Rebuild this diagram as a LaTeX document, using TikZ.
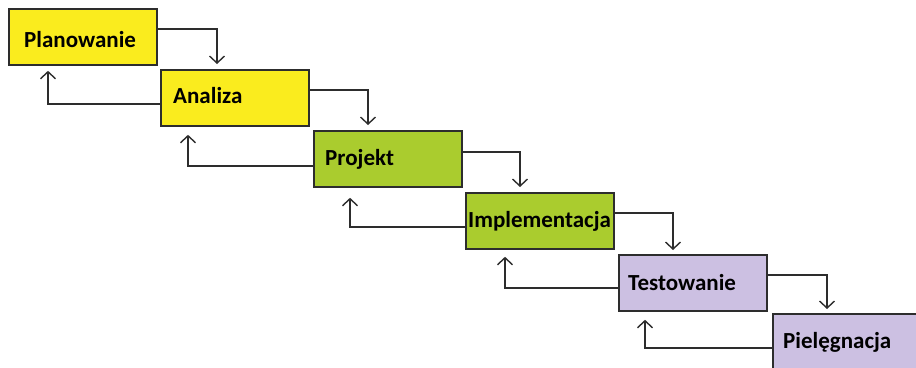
\documentclass[tikz,border=0pt]{standalone}
\usepackage{fontspec}
\setmainfont{Carlito}
\usetikzlibrary{arrows.meta,calc}
\definecolor{phaseyellow}{RGB}{250,236,30}
\definecolor{phasegreen}{RGB}{170,204,46}
\definecolor{phaselilac}{RGB}{204,192,226}
\definecolor{edgegray}{RGB}{45,45,45}
\tikzset{
  phase/.style={draw=edgegray, line width=1.8pt, minimum width=148pt, minimum height=56pt,
    inner sep=0pt, anchor=north west},
  phasetext/.style={font=\bfseries\fontsize{23}{27}\selectfont, anchor=base west, inner sep=0pt},
  flow/.style={draw=edgegray, line width=1.4pt, -{Straight Barb[length=7pt,width=15pt,line width=1.4pt]}},
}
\begin{document}
\begin{tikzpicture}[x=1pt,y=-1pt]
\useasboundingbox (0,0) rectangle (916,367);
\clip (0,0) rectangle (916,367);
\fill[white] (0,0) rectangle (916,367);

% phase boxes
\node[phase, fill=phaseyellow] (plan) at (8,8) {};
\node[phase, fill=phaseyellow] (anal) at (160,69) {};
\node[phase, fill=phasegreen]  (proj) at (313,130) {};
\node[phase, fill=phasegreen]  (impl) at (465,192) {};
\node[phase, fill=phaselilac]  (test) at (618,254) {};
\node[phase, fill=phaselilac, minimum width=156pt] (piel) at (772,313) {};

% phase names
\node[phasetext] at ($(plan.north west)+(16,39)$) {Planowanie};
\node[phasetext] at ($(anal.north west)+(13,34)$) {Analiza};
\node[phasetext] at ($(proj.north west)+(12,35)$) {Projekt};
\node[phasetext] at ($(impl.north west)+(3,35)$) {Implementacja};
\node[phasetext] at ($(test.north west)+(10,36)$) {Testowanie};
\node[phasetext] at ($(piel.north west)+(11,35)$) {Pielęgnacja};

% forward flow
\draw[flow] ($(plan.north east)+(0,21)$) -| ($(anal.north west)+(57,-5)$);
\draw[flow] ($(anal.north east)+(0,21)$) -| ($(proj.north west)+(55,-5)$);
\draw[flow] ($(proj.north east)+(0,22)$) -| ($(impl.north west)+(55,-5)$);
\draw[flow] ($(impl.north east)+(0,21)$) -| ($(test.north west)+(55,-4)$);
\draw[flow] ($(test.north east)+(0,21)$) -| ($(piel.north west)+(55,-4)$);

% feedback flow
\draw[flow] ($(anal.north west)+(0,35)$) -| ($(plan.south west)+(40,5)$);
\draw[flow] ($(proj.north west)+(0,36)$) -| ($(anal.south west)+(28,8)$);
\draw[flow] ($(impl.north west)+(0,35)$) -| ($(proj.south west)+(37,10)$);
\draw[flow] ($(test.north west)+(0,34)$) -| ($(impl.south west)+(40,7)$);
\draw[flow] ($(piel.north west)+(0,35)$) -| ($(test.south west)+(27,8)$);
\end{tikzpicture}
\end{document}
